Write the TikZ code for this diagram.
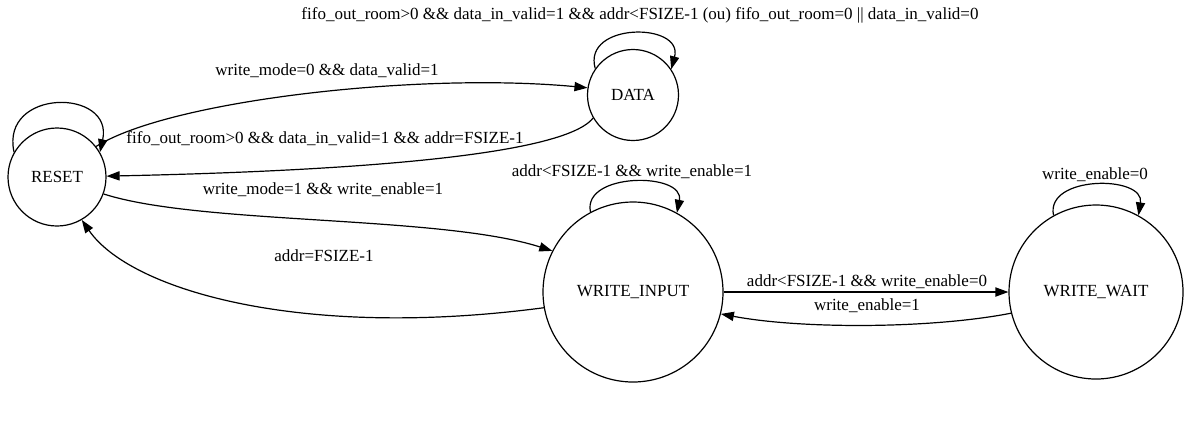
\documentclass[tikz,border=0pt]{standalone}
\usepackage{fontspec}
\setmainfont{Liberation Serif}
\usetikzlibrary{arrows.meta}

\begin{document}
\begin{tikzpicture}[x=0.5pt, y=-0.5pt,
    state/.style={draw, circle, line width=0.6pt, inner sep=0pt, font=\fontsize{8.5}{10}\selectfont},
    trans/.style={line width=0.6pt, -{Triangle[length=6.5pt, width=4.6pt]}},
    lbl/.style={inner sep=0pt, font=\fontsize{8.5}{10}\selectfont}]
    \useasboundingbox (0,0) rectangle (1203,425);
    % States
    \node[state, minimum size=49pt] (reset) at (57,177) {RESET};
    \node[state, minimum size=45.5pt] (data) at (633,95) {DATA};
    \node[state, minimum size=90pt] (winput) at (633,292) {WRITE\_INPUT};
    \node[state, minimum size=87pt] (wwait) at (1096,292) {WRITE\_WAIT};
    % Self loops
    \draw[trans] (reset.150) .. controls (0,88) and (114,88) .. (reset.30);
    \draw[trans] (data.145) .. controls (582,22) and (684,22) .. (data.34);
    \draw[trans] (winput.118) .. controls (582,172) and (685,172) .. (winput.61);
    \draw[trans] (wwait.119) .. controls (1045,175) and (1145,175) .. (wwait.61);
    % RESET <-> DATA
    \draw[trans] (reset.38) .. controls (170,100) and (420,72) .. (data.171);
    \draw[trans] (data.210) .. controls (560,160) and (300,172) .. (reset.1);
    % RESET <-> WRITE_INPUT
    \draw[trans] (reset.340) .. controls (200,225) and (440,215) .. (winput.153);
    \draw[trans] (winput.190) .. controls (300,340) and (130,290) .. (reset.300);
    % WRITE_INPUT <-> WRITE_WAIT
    \draw[trans] (winput.east) -- (wwait.west);
    \draw[trans] (wwait.194) .. controls (930,329) and (800,329) .. (winput.346);
    % Labels
    \node[lbl] (l1) at (640,15) {fifo\_out\_room>0 \&\& data\_in\_valid=1 \&\& addr<FSIZE-1 (ou) fifo\_out\_room=0 || data\_in\_valid=0};
    \node[lbl] (l2) at (327,71) {write\_mode=0 \&\& data\_valid=1};
    \node[lbl] (l3) at (325,139) {fifo\_out\_room>0 \&\& data\_in\_valid=1 \&\& addr=FSIZE-1};
    \node[lbl] (l4) at (323,190) {write\_mode=1 \&\& write\_enable=1};
    \node[lbl] (l5) at (324,256) {addr=FSIZE-1};
    \node[lbl] (l6) at (632,172) {addr<FSIZE-1 \&\& write\_enable=1};
    \node[lbl] (l7) at (1095,175) {write\_enable=0};
    \node[lbl] (l8) at (867,282) {addr<FSIZE-1 \&\& write\_enable=0};
    \node[lbl] (l9) at (867,306) {write\_enable=1};
\end{tikzpicture}
\end{document}
